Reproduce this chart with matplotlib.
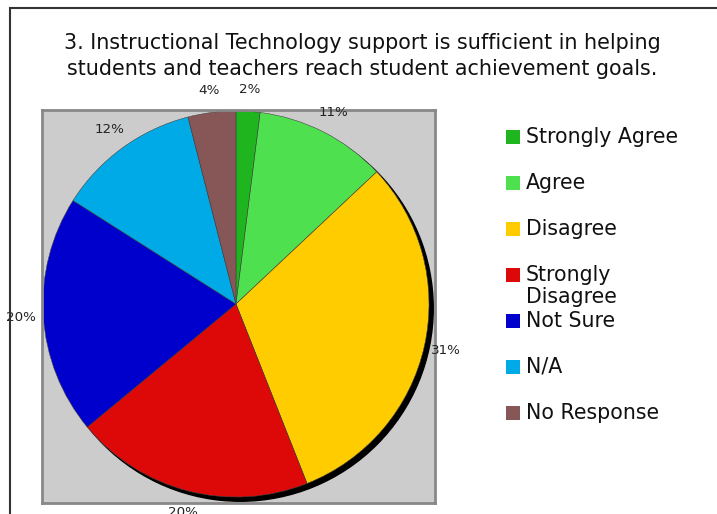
import matplotlib.pyplot as plt
from matplotlib.patches import Circle, Rectangle

# Survey responses (percent)
categories = ['Strongly Agree', 'Agree', 'Disagree', 'Strongly\nDisagree',
              'Not Sure', 'N/A', 'No Response']
values = [2, 11, 31, 20, 20, 12, 4]
colors = ['#1fb51f', '#4fe04f', '#ffcc00', '#dd0808',
          '#0000cc', '#00aae6', '#875757']

title = ('3. Instructional Technology support is sufficient in helping\n'
         'students and teachers reach student achievement goals.')

W, H = 717, 514
fig = plt.figure(figsize=(W / 100, H / 100), dpi=100)

# outer frame (left and top edges visible)
fig.add_artist(Rectangle((9.5 / W, -0.2), 1.2, (H - 7.5) / H + 0.2,
                         transform=fig.transFigure, fill=False,
                         edgecolor='#333333', linewidth=1.5))

fig.text(362 / W, 1 - 56 / H, title, ha='center', va='center',
         fontsize=14.9, linespacing=1.42, color='#111111')

# plot area
ax = fig.add_axes([42 / W, (H - 503) / H, 393 / W, 393 / H])
wedges, texts, autotexts = ax.pie(
    values, colors=colors, startangle=90, counterclock=False,
    radius=1, center=(0, 0),
    autopct=lambda p: f'{p:.0f}%', pctdistance=1.115,
    textprops={'fontsize': 9.7, 'color': '#222222'},
    wedgeprops={'linewidth': 0.4, 'edgecolor': '#444444'})
ax.add_patch(Circle((0.022, -0.022), 1.0, color='black', zorder=0.9))

ax.set_frame_on(True)
ax.set_facecolor('#cccccc')
for sp in ax.spines.values():
    sp.set_color('#888888')
    sp.set_linewidth(2)
ax.set_xlim(-1.005, 1.031)
ax.set_ylim(-1.031, 1.005)
ax.set_aspect('equal')
ax.set_xticks([])
ax.set_yticks([])

# legend, drawn by hand so the wrapped label lines up like the original
y0 = 137
step = 46
for i, (lab, col) in enumerate(zip(categories, colors)):
    yc = y0 + i * step
    fig.add_artist(Rectangle((506 / W, 1 - (yc + 7) / H), 14 / W, 14 / H,
                             transform=fig.transFigure, facecolor=col,
                             edgecolor='none'))
    fig.text(526 / W, 1 - (yc - 10) / H, lab, ha='left', va='top',
             fontsize=14.8, linespacing=1.1, color='#111111')

plt.savefig('out.png', dpi=100)
plt.close()
